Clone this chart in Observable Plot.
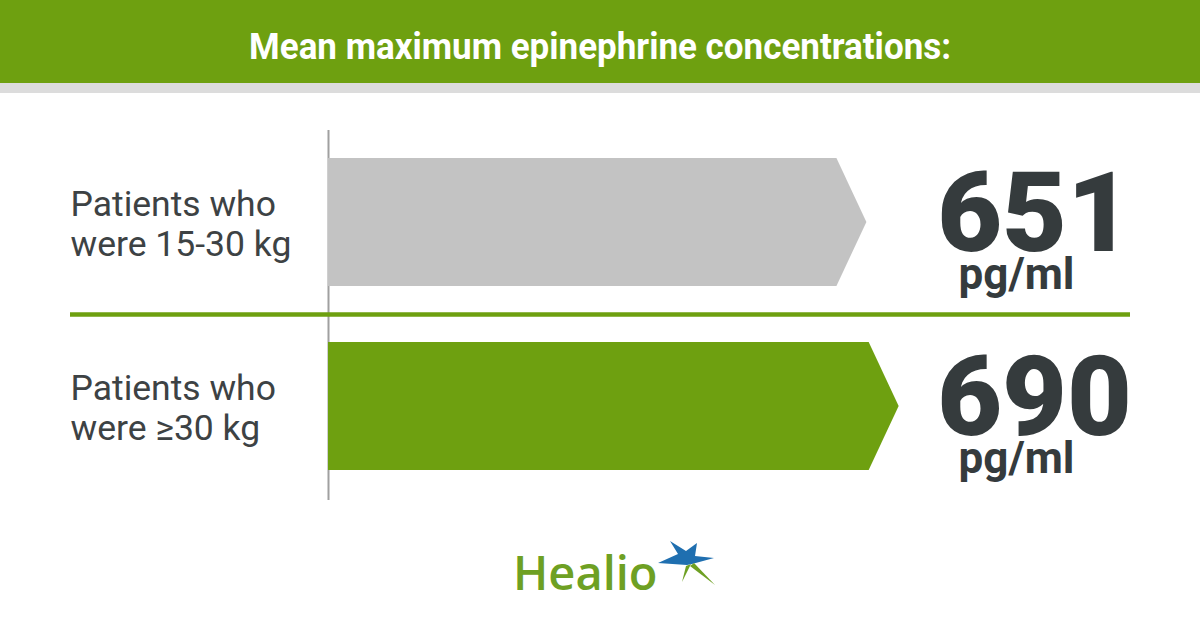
<!DOCTYPE html>
<html>
<head>
<meta charset="utf-8">
<script src="https://cdn.jsdelivr.net/npm/d3@7"></script>
<script src="https://cdn.jsdelivr.net/npm/@observablehq/plot@0.6"></script>
<style>
  html, body { margin: 0; padding: 0; background: #fff; }
  body { width: 1200px; height: 630px; position: relative; overflow: hidden; font-family: Roboto, "Open Sans", sans-serif; }
  .header { height: 83px; background: #6ea010; position: relative; }
  .strip { height: 10px; background: #dcdcdc; }
  .title { position: absolute; left: 0; right: 0; top: 26px; text-align: center; }
  .title span { display: inline-block; color: #fff; font: 700 36px Roboto, sans-serif; white-space: nowrap; transform-origin: center; }
  #chart { position: absolute; left: 0; top: 93px; }
  .logo { position: absolute; left: 513px; top: 536px; height: 70px; }
  .logo .word { position: absolute; left: 0; top: 1px; font: 600 47px "Open Sans", sans-serif; color: #6ea023; line-height: 70px; letter-spacing: 0px; }
  .logo svg { position: absolute; left: 143px; top: 4px; }
</style>
</head>
<body>
<div class="header"><div class="title"><span id="title">Mean maximum epinephrine concentrations:</span></div></div>
<div class="strip"></div>
<div id="chart"></div>
<div class="logo">
  <div class="word">Healio</div>
  <svg width="62" height="50" viewBox="0 0 62 50">
    <path d="M2,23 L22,14 L14,1 L30,11 L41,3 L39,16 L58,18 L36,24 L31,25 Z" fill="#1f6fb0"/>
    <path d="M30,26 L35,24 L26,42 Z" fill="#6ea023"/>
    <path d="M34,26 L38,23 L59,45 Z" fill="#6ea023"/>
  </svg>
</div>
<script>
// ---- data ----
const categories = ["Patients who\nwere 15-30 kg", "Patients who\nwere \u226530 kg"];
const values = [651, 690];
const unitLabel = "pg/ml";

const rows = categories.map((c, i) => ({category: c, value: values[i]}));

const chart = Plot.plot({
  width: 1200,
  height: 440,
  marginLeft: 70,
  marginRight: 70,
  marginTop: 9,
  marginBottom: 7,
  style: {fontFamily: "Roboto, sans-serif", background: "transparent"},
  x: {domain: [0, 1000], range: [328, 1155], axis: null},
  y: {domain: categories, padding: 0.304, axis: null},
  color: {domain: categories, range: ["#c3c3c3", "#6ea010"]},
  marks: [
    Plot.ruleX([0], {stroke: "#a0a0a0", strokeWidth: 2, insetTop: 28, insetBottom: 26}),
    Plot.barX(rows, {x1: 0, x2: "value", y: "category", fill: "category"}),
    Plot.ruleY([categories[0]], {stroke: "#6ea010", strokeWidth: 4.5, dy: 92}),
    Plot.text(rows, {y: "category", text: "category", frameAnchor: "left", textAnchor: "start",
      lineAnchor: "middle", lineHeight: 1.12, fontSize: 35.5, fill: "#3d4244", letterSpacing: 2.1, dx: 0, dy: 1}),
    Plot.text(rows, {y: "category", text: d => String(d.value), frameAnchor: "right", dx: -96,
      textAnchor: "middle", lineAnchor: "bottom", dy: 28, fontSize: 112, fontWeight: 900,
      fill: "#353b3d", letterSpacing: -6}),
    Plot.text(rows, {y: "category", text: () => unitLabel, frameAnchor: "right", dx: -114,
      textAnchor: "middle", lineAnchor: "bottom", dy: 66, fontSize: 44, fontWeight: 700,
      fill: "#353b3d"})
  ]
});

// turn the bars into arrow shapes (tip lands at the value)
d3.select(chart).selectAll('g[aria-label="bar"] rect').each(function () {
  const r = d3.select(this);
  const x = +r.attr("x"), y = +r.attr("y"), w = +r.attr("width"), h = +r.attr("height");
  const tip = h * 0.234;
  const p = `M${x},${y}H${x + w - tip}L${x + w},${y + h / 2}L${x + w - tip},${y + h}H${x}Z`;
  const path = document.createElementNS("http://www.w3.org/2000/svg", "path");
  path.setAttribute("d", p);
  path.setAttribute("fill", r.attr("fill"));
  this.parentNode.replaceChild(path, this);
});

document.getElementById("chart").appendChild(chart);

// fit title width to the reference's condensed look
const t = document.getElementById("title");
const tw = t.getBoundingClientRect().width;
t.style.transform = `scaleX(${702 / tw})`;
</script>
</body>
</html>
